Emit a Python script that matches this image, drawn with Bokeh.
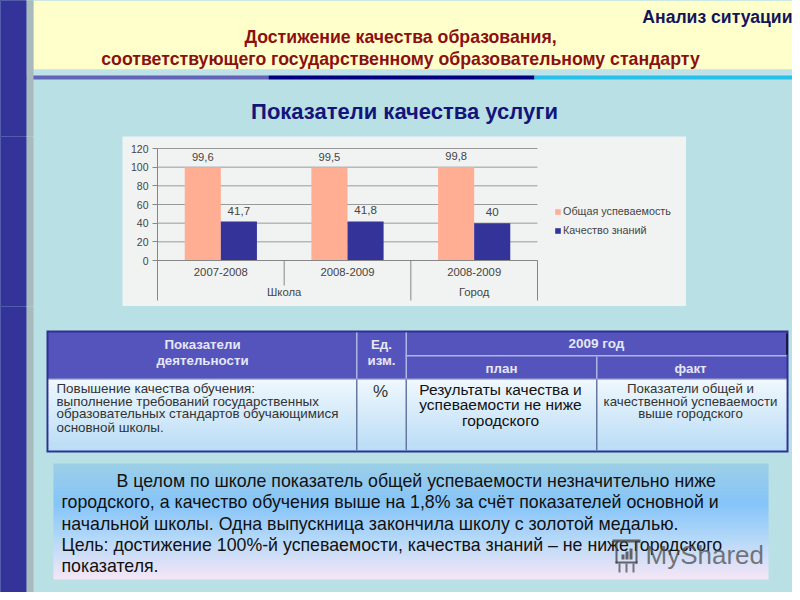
from bokeh.embed import file_html
from bokeh.resources import INLINE
from bokeh.plotting import figure
from bokeh.layouts import column, row
from bokeh.core.properties import value
from bokeh.models import ColumnDataSource, Range1d, FixedTicker, Legend, LegendItem
import numpy as np

# ---- data ----
schools = ["Школа", "Школа", "Город"]
years = ["2007-2008", "2008-2009", "2008-2009"]
overall = [99.6, 99.5, 99.8]
quality = [41.7, 41.8, 40]
overall_labels = ["99,6", "99,5", "99,8"]
quality_labels = ["41,7", "41,8", "40"]
series_names = ["Общая успеваемость", "Качество знаний"]
y_ticks = [0, 20, 40, 60, 80, 100, 120]

FONT = "Liberation Sans"
SLIDE = "#B9E0E4"
X0, X1, Y0, Y1 = 0, 792, 0, 592     # part of the slide that fits the page
PX0, PX1, PY0, PY1 = 122, 686, 136, 306   # chart panel


def strip(l, t, r, b, fill=SLIDE):
    f = figure(width=r - l, height=b - t, output_backend="svg", toolbar_location=None,
               x_range=Range1d(l, r), y_range=Range1d(b, t), frame_align=False,
               min_border=0, min_border_left=0, min_border_right=0, min_border_top=0, min_border_bottom=0)
    f.axis.visible = False
    f.grid.visible = False
    f.outline_line_color = None
    f.background_fill_color = fill
    f.border_fill_color = fill
    return f


def box(f, l, t, r, b, color, alpha=1.0):
    f.quad(left=l, right=r, top=t, bottom=b, fill_color=color, fill_alpha=alpha, line_color=None)


def hexrgb(c):
    return tuple(int(c[i:i + 2], 16) for i in (1, 3, 5))


def gradient(f, l, t, r, b, stops, step=2):
    y = t
    while y < b:
        k0 = (y + step / 2 - t) / (b - t)
        for (f0, c0), (f1, c1) in zip(stops, stops[1:]):
            if f0 <= k0 <= f1:
                k = (k0 - f0) / (f1 - f0)
                a, d = hexrgb(c0), hexrgb(c1)
                col = "#%02x%02x%02x" % tuple(round(a[i] + (d[i] - a[i]) * k) for i in range(3))
                break
        box(f, l, y, r, min(y + step + 0.6, b), col)
        y += step


def text(f, x, y, s, size, color="#111111", align="left", style="normal", alpha=1.0):
    f.text(x=[x], y=[y], text=[s], text_font=value(FONT), text_font_size=f"{size}px", text_color=color,
           text_align=align, text_baseline="middle", text_font_style=style, text_alpha=alpha)


# ---- top strip ----
top = strip(X0, Y0, X1, PY0)
box(top, 33, 0, 800, 69, "#FFFFCC")
box(top, 33, 69, 800, 75, "#BFE2EA")
box(top, 26, 75, 268, 79, "#6363B8")
box(top, 268, 75, 534, 79, "#000080")
box(top, 534, 75, 800, 79, "#27C0E8")
box(top, 26, -2, 33, PY0 + 3, "#A9BABD")
box(top, -2, -2, 26, PY0 + 3, "#333399")
text(top, 792, 16, "Анализ ситуации", 17.6, "#14145A", "right", "bold")
text(top, 400, 36, "Достижение качества образования,", 17.7, "#8B1010", "center", "bold")
text(top, 400, 58, "соответствующего государственному образовательному стандарту", 17.7, "#8B1010", "center", "bold")
text(top, 404, 111, "Показатели качества услуги", 22, "#14147A", "center", "bold")

# ---- side strips of the chart row ----
left = strip(X0, PY0, PX0, PY1)
box(left, 26, PY0 - 3, 33, PY1 + 3, "#A9BABD")
box(left, -2, PY0 - 3, 26, PY1 + 3, "#333399")
right = strip(PX1, PY0, X1, PY1)

# ---- chart ----
PANEL = "#F1F3F3"
AX = "#868686"
GRID = "#9A9A9A"
TXT = "#444444"
UX = 380 / 3          # pixels of one category
UY = 112 / 120        # pixels of one percent
p = figure(width=PX1 - PX0, height=PY1 - PY0, output_backend="svg", toolbar_location=None,
           x_range=Range1d(-35 / UX, 529 / UX), y_range=Range1d(-46 / UY, 120 + 12 / UY),
           frame_align=False, x_axis_type="linear",
           min_border=0, min_border_left=0, min_border_right=0, min_border_top=0, min_border_bottom=0)
p.border_fill_color = PANEL
p.background_fill_color = PANEL
p.outline_line_color = None

pos = np.arange(len(years)) + 0.5
BW = 0.285
src = ColumnDataSource(dict(x1=pos - BW / 2, x2=pos + BW / 2, overall=overall, quality=quality,
                            ol=overall_labels, ql=quality_labels))
# horizontal rules, from the y ticks, over the categories only
p.segment(x0=[0] * len(y_ticks), x1=[len(years)] * len(y_ticks), y0=y_ticks, y1=y_ticks,
          line_color=GRID, line_width=1)
r1 = p.vbar(x="x1", top="overall", width=BW, bottom=0, source=src, fill_color="#FFAE94", line_color=None)
r2 = p.vbar(x="x2", top="quality", width=BW, bottom=0, source=src, fill_color="#333399", line_color=None)
p.text(x="x1", y="overall", text="ol", source=src, text_font=value(FONT), text_font_size="11.2px",
       text_color=TXT, text_align="center", text_baseline="bottom", y_offset=-7)
p.text(x="x2", y="quality", text="ql", source=src, text_font=value(FONT), text_font_size="11.6px",
       text_color=TXT, text_align="center", text_baseline="bottom", y_offset=-7)

# separators under the axis
low_y = -40 / UY
mid_y = -25 / UY
p.segment(x0=[1, 2, 3], x1=[1, 2, 3], y0=[0, 0, 0], y1=[mid_y, low_y, low_y], line_color=AX, line_width=1)

# group labels
group_names = list(dict.fromkeys(schools))
group_centres = [float(np.mean(pos[[s == g for s in schools]])) for g in group_names]
p.text(x=group_centres, y=[-31.5 / UY] * len(group_names), text=group_names, text_font=value(FONT),
       text_font_size="11.3px", text_color=TXT, text_align="center", text_baseline="middle")

p.grid.visible = False
p.yaxis.fixed_location = 0
p.yaxis.bounds = (low_y, 120)
p.yaxis.ticker = FixedTicker(ticks=y_ticks)
p.yaxis.axis_line_color = AX
p.yaxis.major_tick_line_color = AX
p.yaxis.major_tick_in = 0
p.yaxis.major_tick_out = 5
p.yaxis.minor_tick_line_color = None
p.yaxis.major_label_text_font = FONT
p.yaxis.major_label_text_font_size = "10.5px"
p.yaxis.major_label_text_color = TXT
p.yaxis.major_label_standoff = 4
p.xaxis.fixed_location = 0
p.xaxis.bounds = (0, len(years))
p.xaxis.ticker = FixedTicker(ticks=[float(v) for v in pos])
p.xaxis.major_label_overrides = {float(v): y for v, y in zip(pos, years)}
p.xaxis.axis_line_color = AX
p.xaxis.major_tick_line_color = None
p.xaxis.minor_tick_line_color = None
p.xaxis.major_label_text_font = FONT
p.xaxis.major_label_text_font_size = "11.3px"
p.xaxis.major_label_text_color = TXT
p.xaxis.major_label_orientation = "horizontal"
p.xaxis.major_label_standoff = 1

legend = Legend(items=[LegendItem(label=series_names[0], renderers=[r1]),
                       LegendItem(label=series_names[1], renderers=[r2])],
                location=(432, 70), border_line_color=None, background_fill_alpha=0,
                glyph_width=7, glyph_height=7, label_standoff=2, spacing=7, padding=0, margin=0,
                label_text_font=FONT, label_text_font_size="10.8px", label_text_color=TXT,
                label_height=12)
p.add_layout(legend)

# ---- bottom strip ----
bot = strip(X0, PY1, X1, Y1)
box(bot, 26, PY1 - 3, 33, 593, "#A9BABD")
box(bot, -2, PY1 - 3, 26, 600, "#333399")

BORDER = "#2E3192"
HEAD = "#5454BC"
box(bot, 46, 330, 788, 452, BORDER)
box(bot, 48, 332, 786, 378, HEAD)
gradient(bot, 48, 379, 786, 450, [(0, "#F0F8FE"), (1, "#B9DCF5")])
box(bot, 405, 354.5, 786, 356, "#AEB6E4")
box(bot, 355.5, 332, 357, 378, "#AEB6E4")
box(bot, 405, 332, 406.5, 378, "#AEB6E4")
box(bot, 595.5, 356, 597, 378, "#AEB6E4")
box(bot, 48, 378, 786, 379.5, "#AEB6E4")
box(bot, 355.5, 379, 357, 450, "#66789F")
box(bot, 405, 379, 406.5, 450, "#66789F")
box(bot, 595.5, 379, 597, 450, "#66789F")
box(bot, 785.5, 333, 787.5, 354, "#1A1A40")

HT = "#E6E6F5"
text(bot, 202, 344, "Показатели", 13.3, HT, "center", "bold")
text(bot, 202, 360, "деятельности", 13.3, HT, "center", "bold")
text(bot, 381, 344, "Ед.", 13.3, HT, "center", "bold")
text(bot, 381, 360, "изм.", 13.3, HT, "center", "bold")
text(bot, 596, 343, "2009 год", 13.5, HT, "center", "bold")
text(bot, 501, 368, "план", 13.3, HT, "center", "bold")
text(bot, 690, 368, "факт", 13.3, HT, "center", "bold")

BT = "#333333"
for i, s in enumerate(["Повышение качества обучения:", "выполнение требований государственных",
                       "образовательных стандартов обучающимися", "основной школы."]):
    text(bot, 56, [388, 401, 413, 427][i], s, 13.4, BT)
text(bot, 380, 391, "%", 17, BT, "center")
for i, s in enumerate(["Результаты качества и", "успеваемости не ниже", "городского"]):
    text(bot, 500, [389, 404, 420][i], s, 15.5, "#111111", "center")
for i, s in enumerate(["Показатели общей и", "качественной успеваемости", "выше городского"]):
    text(bot, 690, [388, 401, 413][i], s, 13.3, BT, "center")

gradient(bot, 53, 463, 768, 579, [(0, "#9CCFE6"), (0.35, "#86C4F9"), (0.65, "#B4D8F8"), (1, "#F7E6F6")])
for x, y, s in [(116, 480, "В целом по школе показатель общей успеваемости незначительно ниже"),
                (61, 501, "городского, а качество обучения выше на 1,8% за счёт показателей основной и"),
                (61, 523, "начальной школы. Одна выпускница закончила школу с золотой медалью."),
                (61, 544, "Цель: достижение 100%-й успеваемости, качества знаний – не ниже городского"),
                (61, 565, "показателя.")]:
    text(bot, x, y, s, 17.75, "#111111")

# watermark with its little icon
WM = "#444444"
text(bot, 645, 554, "MyShared", 26, "#555555", alpha=0.78)
box(bot, 612, 539, 640, 542, WM, 0.8)
box(bot, 615, 542, 617, 563, WM, 0.8)
box(bot, 635, 542, 637, 563, WM, 0.8)
box(bot, 615, 561, 637, 563, WM, 0.8)
box(bot, 621, 554, 624, 559, WM, 0.8)
box(bot, 625, 551, 628, 559, WM, 0.8)
box(bot, 629, 548, 632, 559, WM, 0.8)
box(bot, 618, 563, 620, 572, WM, 0.7)
box(bot, 625, 563, 627, 572, WM, 0.7)
box(bot, 632, 563, 634, 572, WM, 0.7)

page = column(top, row(left, p, right, spacing=0), bot, spacing=0,
              styles={"background": f"linear-gradient(90deg, #333399 26px, #A9BABD 26px 33px, {SLIDE} 33px)"})
open("out.html", "w").write(file_html(page, INLINE))
